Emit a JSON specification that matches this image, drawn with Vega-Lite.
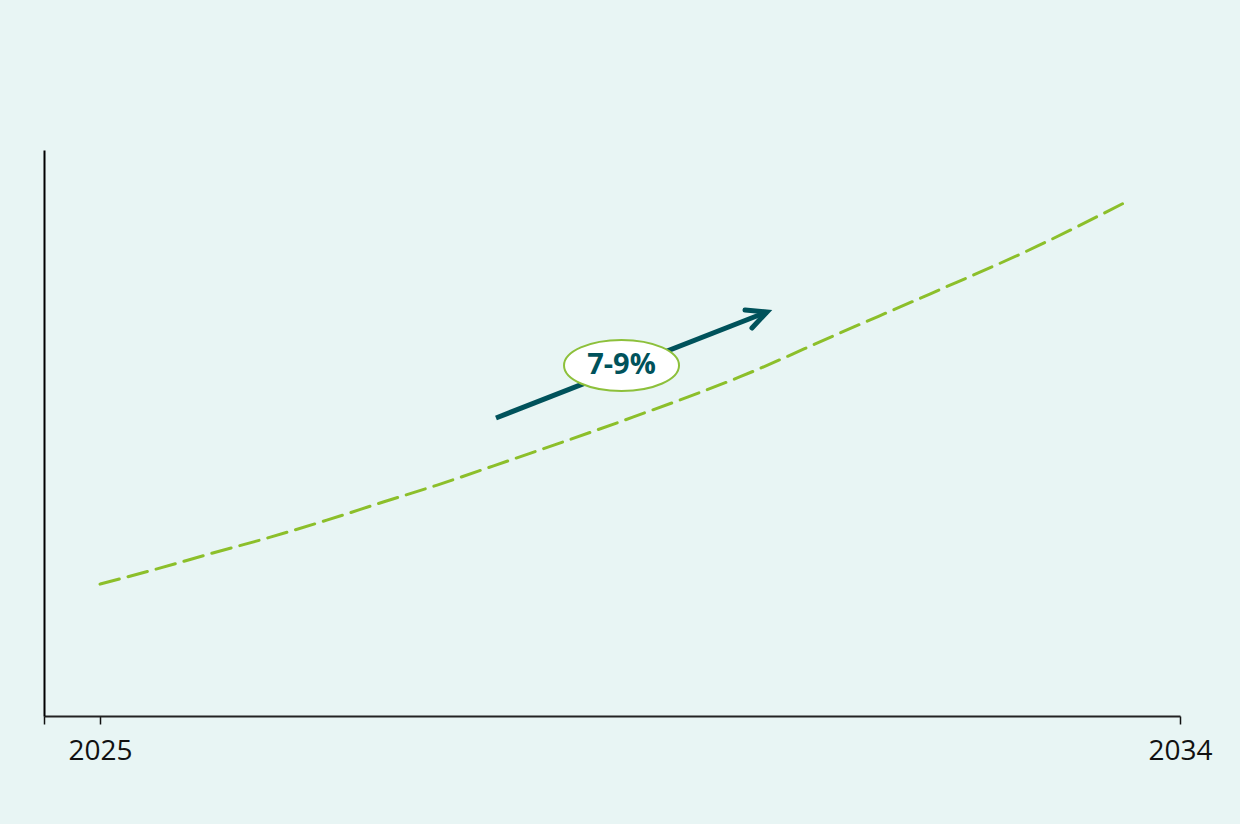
{
  "$schema": "https://vega.github.io/schema/vega-lite/v6.json",
  "autosize": {"type": "none"},
  "width": 1136,
  "height": 566,
  "padding": {"left": 44, "top": 150, "right": 60, "bottom": 108},
  "background": "#E8F5F4",
  "config": {"view": {"stroke": null}},
  "datasets": {
    "curve": [
      {"year": 2025.0, "value": 23.3},
      {"year": 2025.475, "value": 26.0},
      {"year": 2025.94, "value": 28.8},
      {"year": 2026.42, "value": 31.6},
      {"year": 2026.89, "value": 34.6},
      {"year": 2027.36, "value": 37.8},
      {"year": 2027.81, "value": 40.8},
      {"year": 2028.28, "value": 44.2},
      {"year": 2029.44, "value": 52.8},
      {"year": 2030.33, "value": 59.9},
      {"year": 2031.17, "value": 67.7},
      {"year": 2031.92, "value": 74.6},
      {"year": 2032.81, "value": 83.0},
      {"year": 2033.53, "value": 90.6}
    ],
    "shaft": [
      {"year": 2028.3, "value": 52.65},
      {"year": 2030.558, "value": 71.38}
    ],
    "head": [
      {"i": 1, "year": 2030.375, "value": 71.73},
      {"i": 2, "year": 2030.558, "value": 71.38},
      {"i": 3, "year": 2030.433, "value": 68.55}
    ],
    "badge": [
      {"year": 2029.346, "value": 61.93, "label": "7-9%"}
    ]
  },
  "encoding": {
    "x": {
      "field": "year",
      "type": "quantitative",
      "scale": {"domain": [2024.5333333, 2034], "nice": false, "zero": false},
      "axis": {
        "values": [2024.5333333, 2025, 2034],
        "format": "d",
        "labelExpr": "datum.value < 2024.9 ? '' : datum.label",
        "grid": false,
        "title": null,
        "tickSize": 8,
        "tickWidth": 1.5,
        "tickColor": "#111111",
        "domainColor": "#222222",
        "domainWidth": 2,
        "labelFont": "Open Sans",
        "labelFontSize": 28,
        "labelColor": "#111111",
        "labelPadding": 13,
        "labelFlush": false,
        "labelOverlap": false,
        "labelBound": false
      }
    },
    "y": {
      "field": "value",
      "type": "quantitative",
      "scale": {"domain": [0, 100], "nice": false, "zero": false},
      "axis": {
        "ticks": false,
        "labels": false,
        "grid": false,
        "title": null,
        "domainColor": "#000000",
        "domainWidth": 2
      }
    }
  },
  "layer": [
    {
      "data": {"name": "curve"},
      "mark": {"type": "line", "interpolate": "monotone", "color": "#8CBF2A", "strokeWidth": 3, "strokeDash": [20, 9], "strokeCap": "round"}
    },
    {
      "data": {"name": "shaft"},
      "mark": {"type": "line", "color": "#00525B", "strokeWidth": 5, "strokeCap": "butt"}
    },
    {
      "data": {"name": "head"},
      "mark": {"type": "line", "color": "#00525B", "strokeWidth": 5, "strokeCap": "round", "strokeJoin": "miter"},
      "encoding": {"order": {"field": "i", "type": "quantitative"}}
    },
    {
      "data": {"name": "badge"},
      "mark": {
        "type": "point",
        "filled": false,
        "fill": "#FFFFFF",
        "fillOpacity": 1,
        "stroke": "#8DC03B",
        "strokeWidth": 2,
        "opacity": 1,
        "shape": "M -1 0 A 1 0.4435 0 1 0 1 0 A 1 0.4435 0 1 0 -1 0 Z",
        "size": 13225
      }
    },
    {
      "data": {"name": "badge"},
      "mark": {"type": "text", "font": "Open Sans", "fontWeight": "bold", "fontSize": 29, "color": "#00525B", "align": "center", "baseline": "middle"},
      "encoding": {"text": {"field": "label", "type": "nominal"}}
    }
  ]
}
